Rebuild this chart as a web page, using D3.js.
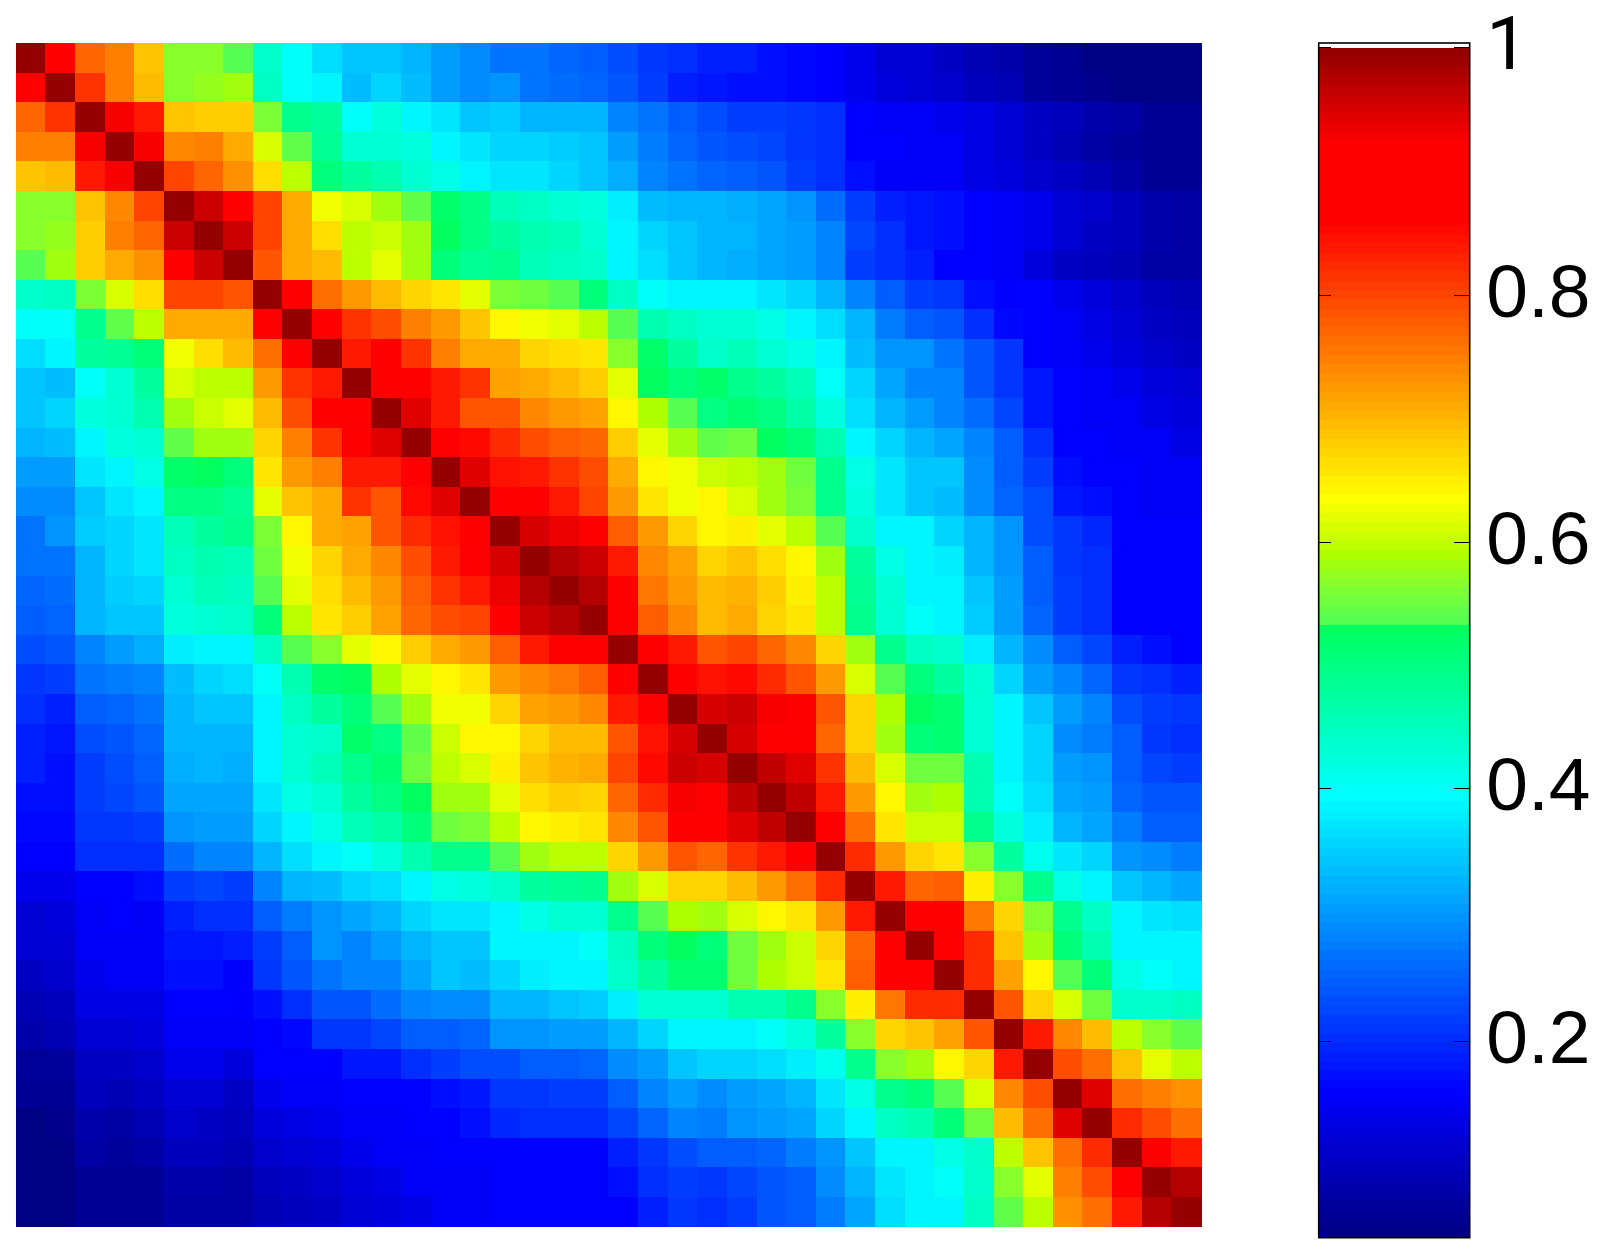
<!DOCTYPE html>
<html>
<head>
<meta charset="utf-8">
<script src="https://cdn.jsdelivr.net/npm/d3@7/dist/d3.min.js"></script>
<style>
html,body{margin:0;padding:0;background:#fff;}
svg{display:block;}
</style>
</head>
<body>
<div id="chart"></div>
<script>
// Upper triangle of the symmetric matrix: each row starts at its diagonal cell.
const row00=[1,.89,.773,.746,.689,.57,.57,.535,.44,.40,.365,.34,.34,.325,.305,.29,.27,.27,.255,.245,.23,.21,.20,.185,.185,.175,.165,.16,.145,.125,.12,.11,.095,.085,.07,.065,.05,.05,.05,.05];
const row01=[1,.817,.746,.693,.57,.575,.585,.45,.40,.39,.335,.36,.335,.305,.29,.295,.27,.26,.255,.24,.22,.185,.18,.175,.17,.165,.16,.145,.13,.125,.115,.10,.09,.07,.065,.055,.05,.05,.05];
const row02=[1,.93,.839,.685,.68,.68,.56,.49,.475,.405,.425,.39,.37,.345,.35,.325,.325,.325,.285,.27,.245,.23,.22,.22,.21,.20,.16,.155,.15,.145,.135,.12,.11,.10,.085,.075,.065,.06];
const row03=[1,.93,.737,.746,.707,.615,.545,.485,.435,.43,.425,.39,.375,.36,.355,.35,.34,.305,.275,.255,.24,.235,.225,.21,.20,.16,.16,.155,.15,.135,.12,.11,.095,.08,.07,.065,.06];
const row04=[1,.804,.773,.733,.667,.595,.505,.475,.46,.435,.415,.39,.37,.37,.36,.34,.32,.285,.27,.255,.245,.24,.22,.20,.175,.155,.155,.15,.14,.13,.115,.105,.09,.075,.065,.06];
const row05=[1,.96,.89,.804,.711,.625,.61,.58,.545,.52,.50,.455,.45,.435,.425,.38,.335,.33,.325,.32,.31,.30,.26,.22,.19,.18,.175,.16,.155,.145,.125,.115,.10,.085,.08];
const row06=[1,.958,.804,.711,.663,.60,.605,.58,.53,.50,.475,.465,.455,.43,.39,.355,.34,.325,.325,.315,.305,.285,.225,.205,.18,.175,.16,.155,.145,.125,.11,.10,.085,.08];
const row07=[1,.786,.711,.693,.595,.62,.58,.51,.485,.49,.455,.45,.44,.39,.365,.34,.325,.32,.315,.305,.285,.22,.20,.19,.16,.16,.15,.13,.11,.10,.09,.08,.08];
const row08=[1,.89,.76,.729,.693,.676,.655,.62,.56,.555,.535,.51,.45,.40,.39,.39,.385,.37,.36,.325,.285,.245,.215,.21,.17,.16,.16,.145,.13,.115,.10,.09];
const row09=[1,.89,.817,.79,.75,.729,.689,.64,.63,.62,.60,.54,.465,.45,.435,.435,.415,.39,.365,.325,.275,.245,.24,.20,.165,.16,.15,.14,.125,.11,.10];
const row10=[1,.839,.89,.817,.746,.707,.711,.672,.663,.66,.57,.52,.475,.44,.455,.43,.415,.39,.335,.30,.295,.27,.24,.21,.16,.155,.145,.13,.115,.105];
const row11=[1,.89,.89,.839,.817,.72,.711,.698,.68,.62,.53,.505,.52,.495,.475,.455,.405,.36,.315,.285,.285,.24,.21,.18,.16,.155,.145,.13,.125];
const row12=[1,.945,.839,.786,.786,.737,.729,.72,.64,.59,.54,.50,.515,.50,.47,.425,.365,.325,.305,.285,.26,.225,.18,.16,.155,.15,.135,.13];
const row13=[1,.89,.852,.826,.79,.782,.768,.68,.62,.585,.545,.55,.53,.51,.465,.39,.355,.325,.31,.285,.245,.20,.16,.16,.155,.15,.14];
const row14=[1,.945,.848,.839,.817,.79,.711,.64,.625,.605,.60,.58,.55,.49,.415,.37,.34,.34,.29,.245,.215,.175,.16,.16,.155,.15];
const row15=[1,.89,.90,.839,.804,.729,.655,.63,.64,.61,.585,.56,.495,.425,.37,.34,.335,.29,.255,.235,.18,.17,.16,.155,.15];
const row16=[1,.952,.935,.91,.782,.729,.676,.64,.65,.62,.60,.54,.44,.39,.385,.355,.325,.295,.235,.21,.195,.16,.16,.16];
const row17=[1,.977,.958,.839,.737,.715,.676,.685,.667,.64,.585,.475,.415,.385,.38,.33,.295,.245,.21,.20,.16,.16,.16];
const row18=[1,.977,.89,.755,.729,.693,.702,.68,.65,.595,.485,.43,.39,.39,.34,.305,.25,.215,.205,.16,.16,.16];
const row19=[1,.89,.777,.737,.698,.711,.676,.655,.60,.49,.435,.40,.39,.35,.305,.255,.22,.205,.16,.16,.16];
const row20=[1,.89,.839,.786,.804,.768,.737,.672,.58,.495,.45,.44,.38,.325,.29,.245,.225,.19,.17,.16];
const row21=[1,.89,.843,.852,.826,.786,.729,.615,.54,.51,.48,.43,.36,.305,.285,.255,.21,.20,.19];
const row22=[1,.948,.96,.93,.90,.786,.672,.59,.53,.515,.43,.39,.34,.305,.285,.235,.215,.21];
const row23=[1,.952,.89,.89,.768,.672,.585,.51,.515,.43,.385,.36,.29,.28,.25,.21,.205];
const row24=[1,.968,.94,.817,.693,.61,.55,.55,.46,.39,.355,.305,.30,.25,.225,.22];
const row25=[1,.968,.839,.724,.64,.585,.59,.465,.40,.365,.315,.305,.255,.24,.24];
const row26=[1,.89,.76,.655,.605,.605,.49,.425,.38,.33,.315,.275,.25,.245];
const row27=[1,.821,.729,.672,.655,.57,.48,.41,.37,.355,.30,.29,.28];
const row28=[1,.839,.768,.782,.649,.57,.49,.415,.39,.34,.325,.315];
const row29=[1,.89,.89,.755,.672,.565,.49,.445,.39,.375,.365];
const row30=[1,.89,.826,.689,.585,.51,.465,.39,.39,.39];
const row31=[1,.821,.715,.64,.54,.51,.415,.40,.39];
const row32=[1,.786,.672,.61,.555,.44,.44,.45];
const row33=[1,.839,.737,.698,.595,.57,.545];
const row34=[1,.79,.76,.689,.62,.60];
const row35=[1,.94,.764,.746,.733];
const row36=[1,.821,.79,.764];
const row37=[1,.89,.839];
const row38=[1,.97];
const row39=[1];
const upperRows=[row00,row01,row02,row03,row04,row05,row06,row07,row08,row09,row10,row11,row12,row13,row14,row15,row16,row17,row18,row19,row20,row21,row22,row23,row24,row25,row26,row27,row28,row29,row30,row31,row32,row33,row34,row35,row36,row37,row38,row39];

const tickValues=[0.2,0.4,0.6,0.8,1];
const colorStops=[0.045,0.16,0.28,0.395,0.53,0.5305,0.54,0.57,0.59,0.636,0.861,0.923,1];
const colorValues=["#000080","#0000ff","#0080ff","#00ffff","#00ff5f","#50ff58","#5aff50","#8cff28","#afff00","#ffff00","#ff0000","#ff0000","#8f0000"];
const bandCount=128;

const width=1608,height=1255;
const plot={left:15.8,right:1201,top:43,bottom:1226.5};
const bar={left:1318.7,right:1469.7,top:43,colorTop:47.7,bottom:1237.7};

const svg=d3.select("#chart").append("svg").attr("width",width).attr("height",height)
  .attr("font-family","'Liberation Sans',Arial,sans-serif");
svg.append("rect").attr("width",width).attr("height",height).attr("fill","#fff");

const cellIds=d3.range(upperRows.length);
const x=d3.scaleBand().domain(cellIds).range([plot.left,plot.right]).paddingInner(0).paddingOuter(0);
const y=d3.scaleBand().domain(cellIds).range([plot.top,plot.bottom]).paddingInner(0).paddingOuter(0);

// Colorbar position scale (ticks in the figure are slightly uneven)
const yBar=d3.scaleLinear()
  .domain([0.045,0.2,0.4,0.6,0.8,1])
  .range([bar.bottom,1041.5,788.7,542.2,295.3,bar.colorTop]);
const colorOf=d3.scaleLinear().domain(colorStops).range(colorValues).interpolate(d3.interpolateRgb).clamp(true);
const bandScale=d3.scaleLinear().domain([bar.bottom,bar.colorTop]).range([0,bandCount]);
const bandColor=d3.range(bandCount).map(i=>colorOf(yBar.invert(bandScale.invert(i+0.5))));
const colorFor=v=>{
  const i=Math.max(0,Math.min(bandCount-1,Math.floor(bandScale(yBar(v)))));
  return bandColor[i];
};

// Expand to the full symmetric matrix
const cells=[];
upperRows.forEach((r,i)=>r.forEach((v,k)=>{
  const j=i+k;
  cells.push({i,j,v});
  if(j!==i) cells.push({i:j,j:i,v});
}));

svg.append("g").attr("shape-rendering","crispEdges").selectAll("rect").data(cells).join("rect")
  .attr("x",d=>x(d.j)).attr("y",d=>y(d.i))
  .attr("width",x.bandwidth()+0.5).attr("height",y.bandwidth()+0.5)
  .attr("fill",d=>colorFor(d.v));

// Colorbar
svg.append("g").attr("shape-rendering","crispEdges").selectAll("rect").data(d3.range(bandCount)).join("rect")
  .attr("x",bar.left).attr("width",bar.right-bar.left)
  .attr("y",i=>bandScale.invert(i+1))
  .attr("height",i=>bandScale.invert(i)-bandScale.invert(i+1)+0.5)
  .attr("fill",i=>bandColor[i]);

svg.append("rect").attr("x",bar.left).attr("y",bar.top)
  .attr("width",bar.right-bar.left).attr("height",bar.bottom-bar.top)
  .attr("fill","none").attr("stroke","#000").attr("stroke-width",1.6);

const axisFn=d3.axisRight(yBar).tickValues(tickValues).tickFormat(d3.format("~g")).tickSizeInner(0).tickSizeOuter(0).tickPadding(16.5);
const gAxis=svg.append("g").attr("transform",`translate(${bar.right},0)`).call(axisFn);
gAxis.select(".domain").remove();
gAxis.selectAll("line").remove();
gAxis.selectAll("text").attr("font-size",75)
  .attr("font-family",d=>d===1?"Roboto,'Liberation Sans',sans-serif":"'Liberation Sans',Arial,sans-serif")
  .attr("fill","#000").attr("dy",null).attr("y",21);

const tickG=svg.append("g").attr("stroke","#000").attr("stroke-width",1).attr("shape-rendering","crispEdges");
tickG.selectAll("line.l").data(tickValues).join("line").attr("class","l")
  .attr("x1",bar.left).attr("x2",bar.left+12).attr("y1",d=>yBar(d)).attr("y2",d=>yBar(d));
tickG.selectAll("line.r").data(tickValues).join("line").attr("class","r")
  .attr("x1",bar.right-16).attr("x2",bar.right).attr("y1",d=>yBar(d)).attr("y2",d=>yBar(d));
</script>
</body>
</html>
